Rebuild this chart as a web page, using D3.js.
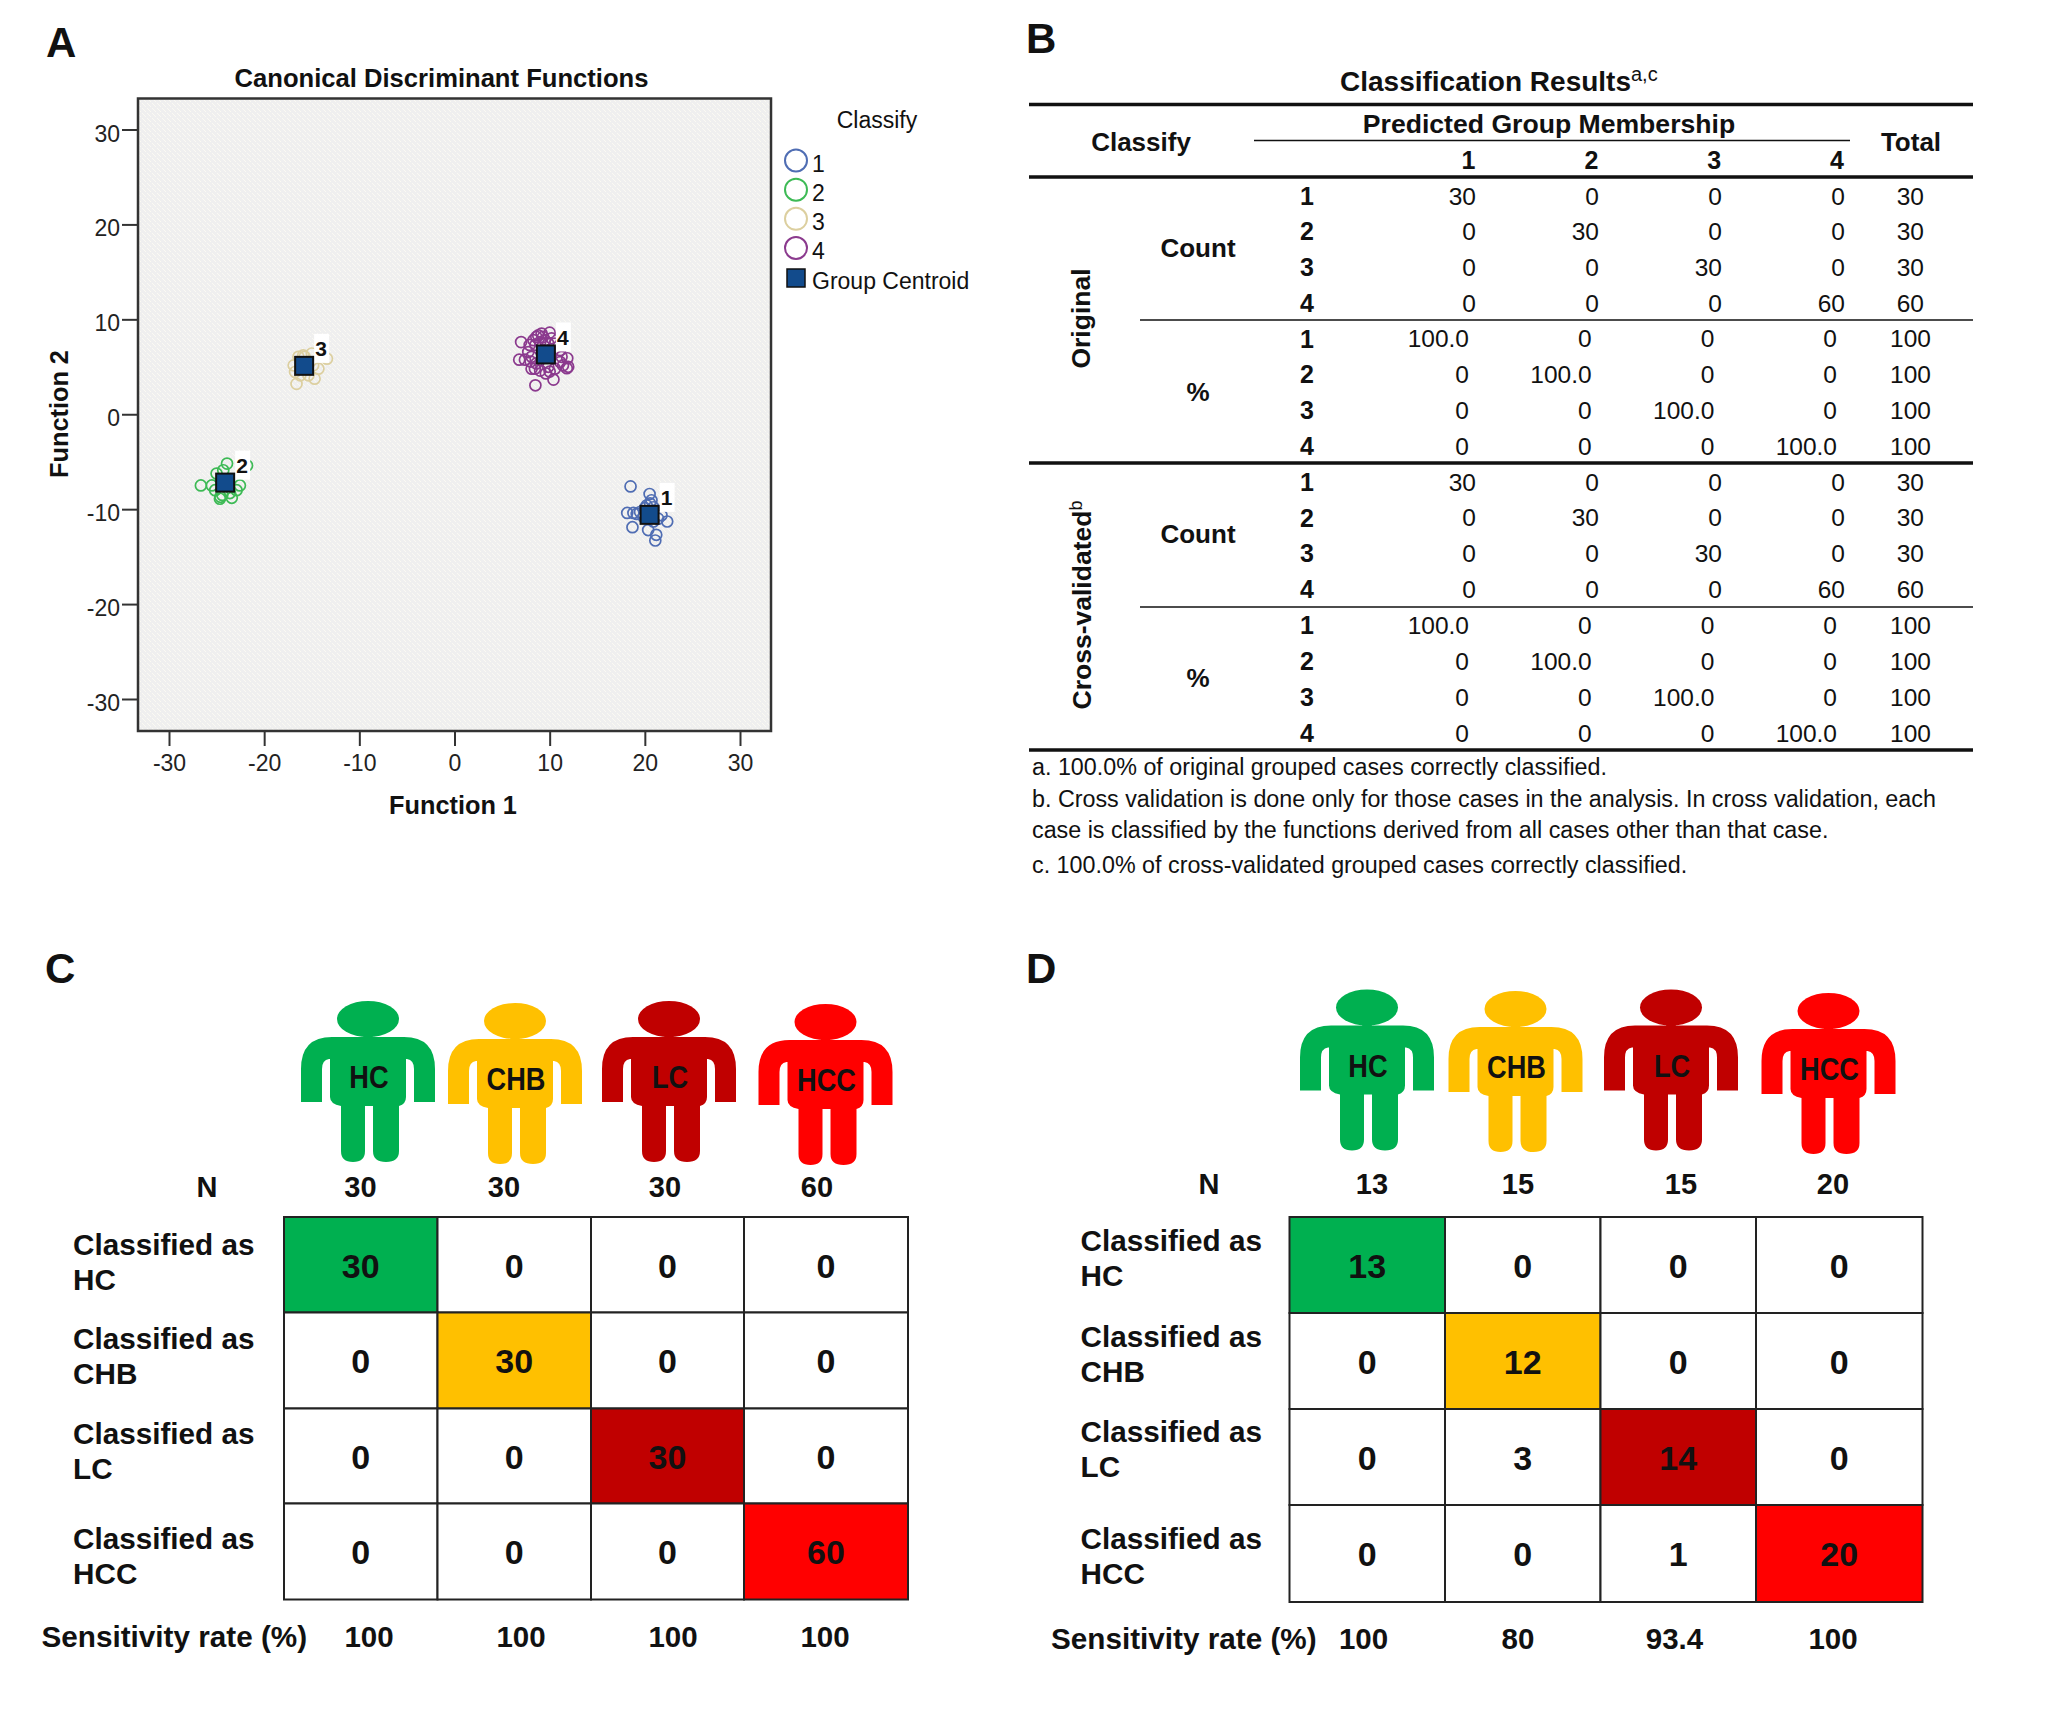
<!DOCTYPE html>
<html>
<head>
<meta charset="utf-8">
<title>Canonical discriminant analysis</title>
<script src="https://cdn.jsdelivr.net/npm/d3@7"></script>
<style>
  body { margin: 0; background: #fff; }
  text { font-family: "Liberation Sans", Arial, sans-serif; fill: #111; }
  .bold { font-weight: bold; }
</style>
</head>
<body>
<script>
// panel A, values
const group1X = [18.5, 20.5, 20.7, 20.2, 20.0, 18.15, 18.8, 19.15, 18.7, 20.35, 21.2, 21.1, 22.35, 21.75, 20.9, 19.85, 20.55, 20.9, 21.4, 19.5];
const group1Y = [-7.6, -8.4, -9.06, -9.6, -9.9, -10.4, -10.4, -10.5, -11.9, -12.2, -12.7, -13.3, -11.3, -10.65, -11.3, -10.8, -9.4, -9.8, -11, -10.3];
const group2X = [-23.9, -26.65, -25.5, -25.0, -24.6, -23.4, -22.9, -24.65, -25.15, -21.8, -24.3, -22.55, -24.4, -23.6];
const group2Y = [-5.2, -7.5, -7.5, -6.25, -8.7, -8.8, -8.0, -8.9, -8.0, -5.4, -5.9, -7.5, -8.5, -8.3];
const group3X = [-16.6, -14.7, -13.4, -15.0, -16.9, -16.4, -15.9, -14.3, -16.75, -16.2, -15.35, -15.75, -14.85];
const group3Y = [3.2, 3.75, 5.85, 6.4, 5.15, 6.05, 6.2, 4.8, 4.45, 4.1, 4.1, 6.05, 5.15];
const group4X = [7.0, 6.8, 7.4, 7.9, 8.8, 10.0, 8.5, 10.4, 9.6, 11.95, 11.85, 11.1, 8.1, 9.0, 10.55, 8.3, 9.3, 8.1, 11.25, 8.6, 9.85, 10.2, 7.75, 11.1, 8.5, 9.0, 9.5, 9.85, 10.55, 8.6, 9.15, 8.0, 8.45, 10.0, 11.4, 11.8];
const group4Y = [7.6, 5.75, 5.75, 7.3, 8.3, 8.6, 3.05, 3.65, 4.3, 5.0, 5.9, 5.5, 4.8, 4.6, 4.8, 7.8, 8.15, 6.05, 6.05, 5.35, 5.0, 8.0, 6.55, 6.75, 7.3, 7.6, 7.8, 7.45, 7.45, 8.15, 8.5, 5.55, 4.8, 4.5, 5.15, 4.85];
const centroidX = [20.5, -24.1, -15.8, 9.6];
const centroidY = [-10.6, -7.2, 5.1, 6.3];
const groupNames = ["1", "2", "3", "4"];
const groupColors = ["#4f6db3", "#3dba55", "#dccf9f", "#8b3a8e"];
const axisTicks = [-30, -20, -10, 0, 10, 20, 30];

// panel B
const tableCount = [[30, 0, 0, 0], [0, 30, 0, 0], [0, 0, 30, 0], [0, 0, 0, 60]];
const tableCountTotal = [30, 30, 30, 60];
const tablePercent = [["100.0", 0, 0, 0], [0, "100.0", 0, 0], [0, 0, "100.0", 0], [0, 0, 0, "100.0"]];
const tablePercentTotal = [100, 100, 100, 100];
const footnotes = [
  "a. 100.0% of original grouped cases correctly classified.",
  "b. Cross validation is done only for those cases in the analysis. In cross validation, each",
  "case is classified by the functions derived from all cases other than that case.",
  "c. 100.0% of cross-validated grouped cases correctly classified."
];

// panels C and D
const classes = ["HC", "CHB", "LC", "HCC"];
const classColors = ["#00b050", "#ffc000", "#c00000", "#ff0000"];
const trainN = [30, 30, 30, 60];
const trainMatrix = [[30, 0, 0, 0], [0, 30, 0, 0], [0, 0, 30, 0], [0, 0, 0, 60]];
const trainRate = ["100", "100", "100", "100"];
const testN = [13, 15, 15, 20];
const testMatrix = [[13, 0, 0, 0], [0, 12, 0, 0], [0, 3, 14, 0], [0, 0, 1, 20]];
const testRate = ["100", "80", "93.4", "100"];

const w = 2070;
const h = 1715;

const svg = d3.select("body").append("svg")
  .attr("width", w)
  .attr("height", h)
  .style("display", "block");

function label(parent, str, x, y, size, anchor, bold) {
  return parent.append("text")
    .attr("x", x)
    .attr("y", y)
    .attr("dy", "0.35em")
    .attr("font-size", size)
    .attr("text-anchor", anchor || "middle")
    .attr("class", bold ? "bold" : null)
    .text(str);
}

// speckled plot background
const speckle = svg.append("defs").append("pattern")
  .attr("id", "speckle")
  .attr("width", 5)
  .attr("height", 5)
  .attr("patternUnits", "userSpaceOnUse");
speckle.append("rect").attr("width", 5).attr("height", 5).attr("fill", "#efefef");
[[0, 1], [2, 3], [4, 0], [3, 4]].forEach(function(p) {
  speckle.append("rect").attr("x", p[0]).attr("y", p[1]).attr("width", 1).attr("height", 1).attr("fill", "#fbfaf2");
});

// panel letters
[["A", 46, 57], ["B", 1026, 53], ["C", 45, 983], ["D", 1026, 983]].forEach(function(d) {
  svg.append("text").attr("class", "bold").attr("font-size", 42)
    .attr("x", d[1]).attr("y", d[2]).text(d[0]);
});

/* ---- A: scatter ---- */
const xScale = d3.scaleLinear().domain([-30, 30]).range([169, 740]);
const yScale = d3.scaleLinear().domain([-30, 30]).range([699, 129.5]);
const plotL = 138, plotR = 771, plotT = 98.5, plotB = 731;

const a = svg.append("g");
a.append("rect")
  .attr("x", plotL).attr("y", plotT)
  .attr("width", plotR - plotL).attr("height", plotB - plotT)
  .attr("fill", "url(#speckle)").attr("stroke", "#333").attr("stroke-width", 2.5);

const xAxis = a.append("g")
  .attr("transform", "translate(0," + plotB + ")")
  .call(d3.axisBottom(xScale).tickValues(axisTicks).tickSize(15).tickPadding(9).tickFormat(String));
const yAxis = a.append("g")
  .attr("transform", "translate(" + plotL + ",0)")
  .call(d3.axisLeft(yScale).tickValues(axisTicks).tickSize(16).tickPadding(2).tickFormat(String));
[xAxis, yAxis].forEach(function(ax) {
  ax.select(".domain").remove();
  ax.selectAll("line").attr("stroke", "#333").attr("stroke-width", 2);
  ax.selectAll("text").attr("font-size", 23).attr("font-family", null).style("fill", "#222");
});
yAxis.selectAll("text").attr("dy", "0.5em");

const groupsX = [group1X, group2X, group3X, group4X];
const groupsY = [group1Y, group2Y, group3Y, group4Y];
groupsX.forEach(function(xs, g) {
  a.append("g").selectAll("circle")
    .data(xs)
    .enter()
    .append("circle")
    .attr("cx", function(d) { return xScale(d); })
    .attr("cy", function(d, i) { return yScale(groupsY[g][i]); })
    .attr("r", 5.5)
    .attr("fill", "none")
    .attr("stroke", groupColors[g])
    .attr("stroke-width", 1.7);
});

// white boxes behind the centroid numbers
a.selectAll(".numbox")
  .data(centroidX)
  .enter()
  .append("rect")
  .attr("x", function(d) { return xScale(d) + 10; })
  .attr("y", function(d, i) { return yScale(centroidY[i]) - 32; })
  .attr("width", 15)
  .attr("height", 29)
  .attr("fill", "#fff");

a.selectAll(".centroid")
  .data(centroidX)
  .enter()
  .append("rect")
  .attr("x", function(d) { return xScale(d) - 9; })
  .attr("y", function(d, i) { return yScale(centroidY[i]) - 9; })
  .attr("width", 18)
  .attr("height", 18)
  .attr("fill", "#124b8c")
  .attr("stroke", "#111")
  .attr("stroke-width", 2);

centroidX.forEach(function(d, i) {
  label(a, groupNames[i], xScale(d) + 17, yScale(centroidY[i]) - 17, 21, "middle", true);
});

label(a, "Canonical Discriminant Functions", 441.5, 78, 25.6, "middle", true);
label(a, "Function 1", 453, 805, 25.3, "middle", true);
label(a, "Function 2", 0, 0, 25.3, "middle", true)
  .attr("transform", "translate(59,414) rotate(-90)");

// legend
label(a, "Classify", 877, 120, 23);
const legendY = d3.scalePoint().domain(groupNames).range([160.5, 248]);
groupNames.forEach(function(n, i) {
  a.append("circle")
    .attr("cx", 796).attr("cy", legendY(n)).attr("r", 11)
    .attr("fill", "none").attr("stroke", groupColors[i]).attr("stroke-width", 2);
  label(a, n, 812, legendY(n) + 3, 23, "start");
});
a.append("rect")
  .attr("x", 787).attr("y", 269).attr("width", 18).attr("height", 18)
  .attr("fill", "#124b8c").attr("stroke", "#111").attr("stroke-width", 1.5);
label(a, "Group Centroid", 812, 281, 23, "start");

/* ---- B: table ---- */
const b = svg.append("g");
function rule(x1, x2, y, width) {
  b.append("line")
    .attr("x1", x1).attr("x2", x2).attr("y1", y).attr("y2", y)
    .attr("stroke", "#111").attr("stroke-width", width);
}
rule(1029, 1973, 104.5, 3.5);
rule(1254, 1850, 140.5, 1.5);
rule(1029, 1973, 177, 3.5);
rule(1140, 1973, 320, 1.5);
rule(1029, 1973, 463, 3.5);
rule(1140, 1973, 607, 1.5);
rule(1029, 1973, 750, 3.5);

const title = label(b, "Classification Results", 1340, 81, 28, "start", true);
title.append("tspan").attr("dy", "-0.5em").attr("font-size", 20).attr("font-weight", "normal").text("a,c");

label(b, "Classify", 1141, 142, 26, "middle", true);
label(b, "Predicted Group Membership", 1549, 124, 26.6, "middle", true);
label(b, "Total", 1911, 142, 26, "middle", true);

const headX = d3.scalePoint().domain(groupNames).range([1468.5, 1837]);
groupNames.forEach(function(n) { label(b, n, headX(n), 160, 25, "middle", true); });

const countX = d3.scalePoint().domain(groupNames).range([1476, 1845]);
const percentX = d3.scalePoint().domain(groupNames).range([1469, 1837]);

function tableBlock(top, bottom, groupLabel, groupX, sup) {
  const rowY = d3.scalePoint().domain(d3.range(8)).range([top, bottom]);
  const blocks = [
    { rows: tableCount, totals: tableCountTotal, x: countX, totalX: 1924, offset: 0, name: "Count", nameY: -1.5 },
    { rows: tablePercent, totals: tablePercentTotal, x: percentX, totalX: 1931, offset: 4, name: "%", nameY: -1 }
  ];
  blocks.forEach(function(block) {
    block.rows.forEach(function(row, r) {
      const y = rowY(r + block.offset);
      label(b, groupNames[r], 1307, y, 25, "middle", true);
      row.forEach(function(v, c) {
        label(b, v, block.x(groupNames[c]), y, 24.5, "end");
      });
      label(b, block.totals[r], block.totalX, y, 24.5, "end");
    });
    const mid = (rowY(block.offset) + rowY(block.offset + 3)) / 2;
    label(b, block.name, 1198, mid + block.nameY, 26, "middle", true);
  });
  const rot = label(b, groupLabel, 0, 0, 26.5, "middle", true)
    .attr("transform", "translate(" + groupX + "," + ((top + bottom) / 2 - 2.5) + ") rotate(-90)");
  if (sup) rot.append("tspan").attr("dy", "-0.5em").attr("font-size", 18).attr("font-weight", "normal").text(sup);
}
tableBlock(196, 446, "Original", 1080.5);
tableBlock(482, 733, "Cross-validated", 1082, "b");

[767, 799, 829.5, 865].forEach(function(y, i) {
  label(b, footnotes[i], 1032, y, 23.3, "start");
});

/* ---- C and D: confusion matrices ---- */
function person(parent, cx, top, color, name) {
  const g = parent.append("g").attr("transform", "translate(" + cx + "," + top + ")");
  g.append("ellipse").attr("cx", 0).attr("cy", 18).attr("rx", 31).attr("ry", 18).attr("fill", color);
  g.append("path")
    .attr("fill", color)
    .attr("d", "M-3 33 H3 L5 36 H36 Q67 36 67 68 V101 H46 V68 Q46 59 39 58 H38 V96 Q38 103 31 105 V150 Q31 161 18 161 Q5 161 5 150 V105 H-3 V150 Q-3 161 -15 161 Q-27 161 -27 150 V105 Q-38 103 -38 96 V58 H-39 Q-46 59 -46 68 V101 H-67 V68 Q-67 36 -36 36 H-5 Z");
  // condensed lettering on the body
  label(g, name, 0, 0, 32, "middle", true)
    .attr("transform", "translate(1,76) scale(0.85,1)");
}

function matrix(opts) {
  const g = svg.append("g");
  const x = d3.scaleOrdinal().domain(classes).range(opts.gridX);
  const y = d3.scaleOrdinal().domain(classes).range(opts.gridY);

  classes.forEach(function(c, i) {
    person(g, opts.personX[i], opts.personTop[i], classColors[i], c);
    label(g, opts.n[i], opts.nX[i], opts.nY, 29, "middle", true);
    label(g, opts.rate[i], opts.rateX[i], opts.rateY, 29.5, "middle", true);
    label(g, "Classified as", opts.labelX, opts.labelY[i], 29.7, "start", true);
    label(g, c, opts.labelX, opts.labelY[i] + 35, 29.7, "start", true);
  });
  label(g, "N", opts.nameX, opts.nY, 29, "middle", true);
  label(g, "Sensitivity rate (%)", opts.rateLabelX, opts.rateY, 29.7, "start", true);

  opts.matrix.forEach(function(row, r) {
    const rowTop = y(classes[r]);
    const rowBottom = opts.gridY[r + 1];
    g.append("g").selectAll("rect")
      .data(row)
      .enter()
      .append("rect")
      .attr("x", function(d, c) { return x(classes[c]); })
      .attr("y", rowTop)
      .attr("width", function(d, c) { return opts.gridX[c + 1] - opts.gridX[c]; })
      .attr("height", rowBottom - rowTop)
      .attr("fill", function(d, c) { return c === r ? classColors[c] : "#fff"; })
      .attr("stroke", "#222")
      .attr("stroke-width", 2);
    row.forEach(function(v, c) {
      label(g, v, (opts.gridX[c] + opts.gridX[c + 1]) / 2, (rowTop + rowBottom) / 2 + 1, 34, "middle", true);
    });
  });
}

matrix({
  gridX: [284, 437.5, 591, 744, 908],
  gridY: [1217, 1312.5, 1408.5, 1503.5, 1599.5],
  personX: [368, 515, 669, 825.5],
  personTop: [1001, 1003, 1001, 1004],
  n: trainN, nX: [360.5, 504, 665, 817], nY: 1187,
  rate: trainRate, rateX: [369, 521, 673, 825], rateY: 1637,
  labelX: 73, labelY: [1245, 1339, 1434, 1539],
  nameX: 207, rateLabelX: 41.5,
  matrix: trainMatrix
});

matrix({
  gridX: [1289.5, 1445, 1600.5, 1756, 1922.5],
  gridY: [1217, 1313, 1409, 1505, 1602],
  personX: [1367, 1515.5, 1671, 1828.5],
  personTop: [989.5, 991, 989.5, 993],
  n: testN, nX: [1372, 1518, 1681, 1833], nY: 1183.5,
  rate: testRate, rateX: [1363.5, 1518, 1674.5, 1833], rateY: 1639,
  labelX: 1080.5, labelY: [1241, 1337, 1432, 1539],
  nameX: 1209, rateLabelX: 1051,
  matrix: testMatrix
});
</script>
</body>
</html>
